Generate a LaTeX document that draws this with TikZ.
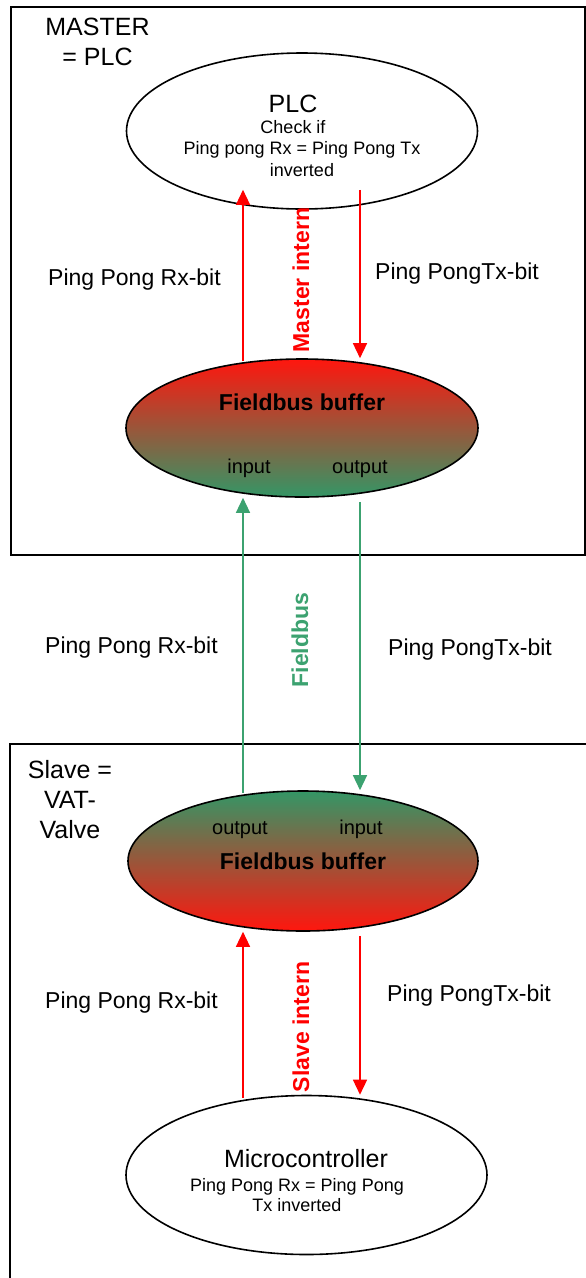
\documentclass[tikz,border=0pt]{standalone}
\usepackage{fontspec}
\setmainfont{Liberation Sans}
\usetikzlibrary{arrows.meta,shapes.geometric}

\definecolor{busred}{RGB}{255,22,14}
\definecolor{busgreen}{RGB}{52,150,102}
\definecolor{linegreen}{RGB}{60,162,112}

\begin{document}
\begin{tikzpicture}[x=1pt,y=-1pt,
  >={Triangle[length=15pt,width=14pt]},
  box/.style={draw=black, line width=2pt},
  oval/.style={ellipse, draw=black, line width=1.6pt, inner sep=0pt},
  bufm/.style={oval, top color=busred, bottom color=busgreen},
  bufs/.style={oval, top color=busgreen, bottom color=busred},
  ttl/.style={font=\fontsize{25}{30}\selectfont, align=center, inner sep=0pt, anchor=base},
  lbl/.style={font=\fontsize{23}{27}\selectfont, inner sep=0pt, anchor=base west},
  sml/.style={font=\fontsize{18}{21.5}\selectfont, align=center, inner sep=0pt, anchor=base},
  port/.style={font=\fontsize{20}{24}\selectfont, inner sep=0pt, anchor=base},
  hdr/.style={font=\bfseries\fontsize{23}{27}\selectfont, inner sep=0pt, anchor=base},
  side/.style={font=\bfseries\fontsize{23}{27}\selectfont, inner sep=0pt, rotate=90},
  redarr/.style={->, red, line width=1.4pt},
  grnarr/.style={->, linegreen, line width=1.4pt}
]
\useasboundingbox (0,0) rectangle (586,1278);
\clip (0,0) rectangle (586,1278);

% the two boxes
\draw[box] (11,7) rectangle (585,555);
\draw[box] (10,744) rectangle (600,1300);
\node[ttl] (mastername) at (97.5,65) {MASTER\\= PLC};
\node[ttl] (slavename) at (70,838) {Slave =\\VAT-\\Valve};

% master side
\node[oval, minimum width=351pt, minimum height=156pt] (plc) at (302,131) {};
\node[ttl] (plctitle) at (293,112) {PLC};
\node[sml] (plctext) at (302,176) {Check if\hspace*{18pt}\\Ping pong Rx = Ping Pong Tx\\inverted};
\node[bufm, minimum width=352pt, minimum height=138pt] (buf1) at (302,428) {};
\node[hdr] (buf1name) at (302,410) {Fieldbus buffer};
\node[port] (buf1in) at (249,473) {input};
\node[port] (buf1out) at (360,473) {output};

% slave side
\node[bufs, minimum width=350pt, minimum height=140pt] (buf2) at (303,861) {};
\node[port] (buf2out) at (240,834) {output};
\node[port] (buf2in) at (361,834) {input};
\node[hdr] (buf2name) at (303,869) {Fieldbus buffer};
\node[oval, minimum width=361pt, minimum height=159pt] (micro) at (306.5,1175) {};
\node[ttl] (microtitle) at (306,1167) {Microcontroller};
\node[sml, font=\fontsize{18}{19.5}\selectfont] (microtext) at (297,1211) {Ping Pong Rx = Ping Pong\\Tx inverted};

% connectors
\coordinate (lx) at (243,0);
\coordinate (rx) at (360,0);
\draw[redarr, shorten <=-3pt, shorten >=-20pt] (buf1.north -| lx) -- (plc.south -| lx);
\draw[redarr, shorten <=-20pt] (plc.south -| rx) -- (buf1.north -| rx);
\draw[grnarr, shorten <=-3pt] (buf2.north -| lx) -- (buf1.south -| lx);
\draw[grnarr, shorten <=4pt] (buf1.south -| rx) -- (buf2.north -| rx);
\draw[redarr, shorten <=-3pt] (micro.north -| lx) -- (buf2.south -| lx);
\draw[redarr, shorten <=4pt] (buf2.south -| rx) -- (micro.north -| rx);

% labels
\node[side, red] (masterintern) at (301,280) {Master intern};
\node[side, linegreen] (fieldbus) at (300,640) {Fieldbus};
\node[side, red] (slaveintern) at (301,1027) {Slave intern};
\node[lbl] (mrx) at (48,285) {Ping Pong Rx-bit};
\node[lbl] (mtx) at (375,279) {Ping PongTx-bit};
\node[lbl] (frx) at (45,653) {Ping Pong Rx-bit};
\node[lbl] (ftx) at (388,655) {Ping PongTx-bit};
\node[lbl] (srx) at (45,1008) {Ping Pong Rx-bit};
\node[lbl] (stx) at (387,1001) {Ping PongTx-bit};
\end{tikzpicture}
\end{document}
